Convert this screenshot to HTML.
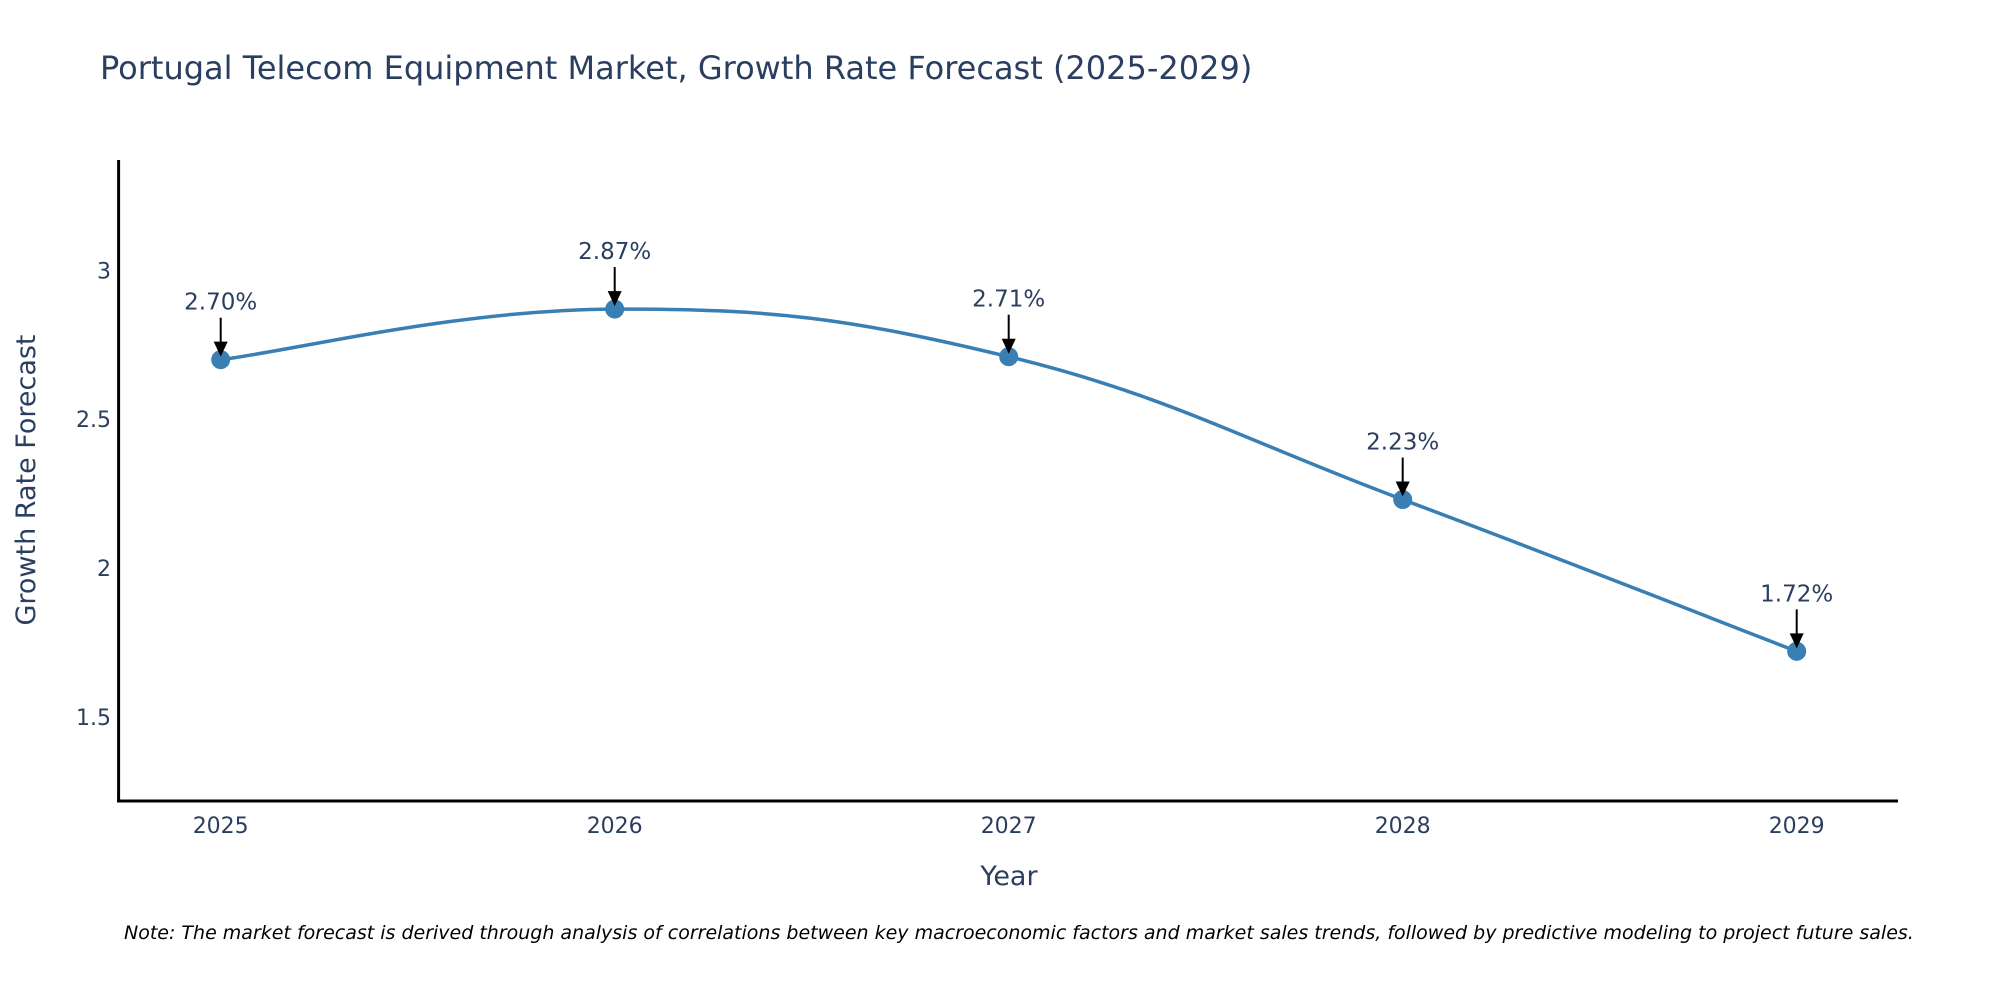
<!DOCTYPE html>
<html><head><meta charset="utf-8"><style>
html,body{margin:0;padding:0;background:#fff;}
svg{display:block;font-family:"DejaVu Sans","Liberation Sans",sans-serif;}
</style></head><body>
<svg id="chart" width="2000" height="1000" viewBox="0 0 2000 1000">
<text x="100" y="79" font-size="32" fill="#2a3f5f">Portugal Telecom Equipment Market, Growth Rate Forecast (2025-2029)</text>
<g id="yticks"></g><g id="xticks"></g>
<path id="line" fill="none" stroke="#3a7fb4" stroke-width="3.5"/>
<g id="marks"></g>
<line x1="118.6" y1="160" x2="118.6" y2="802" stroke="#000" stroke-width="3"/>
<line x1="117" y1="801" x2="1898" y2="801" stroke="#000" stroke-width="3"/>
<text transform="translate(35,480) rotate(-90)" text-anchor="middle" font-size="27" fill="#2a3f5f">Growth Rate Forecast</text>
<text x="1009" y="885" text-anchor="middle" font-size="27" fill="#2a3f5f">Year</text>
<text x="124" y="939" font-size="19" font-style="italic" fill="#000">Note: The market forecast is derived through analysis of correlations between key macroeconomic factors and market sales trends, followed by predictive modeling to project future sales.</text>
</svg>
<script>
const years = [2025, 2026, 2027, 2028, 2029];
const values = [2.70, 2.87, 2.71, 2.23, 1.72];
const labels = ["2.70%", "2.87%", "2.71%", "2.23%", "1.72%"];
const yTickValues = [1.5, 2, 2.5, 3];
const yTickLabels = ["1.5", "2", "2.5", "3"];

const NS = "http://www.w3.org/2000/svg";
function xs(v){ return 220.7 + (v - 2025) * 394; }
function ys(v){ return 270.4 + (3 - v) * 297.6; }
function mk(tag, attrs, parent){ const e=document.createElementNS(NS,tag); for(const k in attrs) e.setAttribute(k,attrs[k]); parent.appendChild(e); return e; }

const yt = document.getElementById('yticks');
yTickValues.forEach((v,i)=>{
  const t = mk('text',{x:111,y:ys(v)+8,'text-anchor':'end','font-size':22,fill:'#2a3f5f'},yt);
  t.textContent = yTickLabels[i];
  
  
});
const xt = document.getElementById('xticks');
years.forEach(y=>{
  const t = mk('text',{x:xs(y),y:833,'text-anchor':'middle','font-size':22,fill:'#2a3f5f'},xt);
  t.textContent = String(y);
  
  
});

const pts = years.map((y,i)=>[xs(y), ys(values[i])]);
let d = `M${pts[0][0]},${pts[0][1]}`;
const s = 0.2;
for(let i=0;i<pts.length-1;i++){
  const p0 = pts[Math.max(0,i-1)], p1=pts[i], p2=pts[i+1], p3=pts[Math.min(pts.length-1,i+2)];
  const c1=[p1[0]+(p2[0]-p0[0])*s, p1[1]+(p2[1]-p0[1])*s];
  const c2=[p2[0]-(p3[0]-p1[0])*s, p2[1]-(p3[1]-p1[1])*s];
  d += ` C${c1[0]},${c1[1]} ${c2[0]},${c2[1]} ${p2[0]},${p2[1]}`;
}
document.getElementById('line').setAttribute('d', d);

const g = document.getElementById('marks');
pts.forEach((p,i)=>{
  const c = mk('circle',{cx:p[0],cy:p[1],r:9.5,fill:'#3a7fb4'},g);
  
  
  const l = mk('line',{x1:p[0],y1:p[1]-42,x2:p[0],y2:p[1]-16,stroke:'#000','stroke-width':2},g);
  
  
  const h = mk('polygon',{points:`${p[0]-7},${p[1]-18} ${p[0]+7},${p[1]-18} ${p[0]},${p[1]-3}`,fill:'#000'},g);
  
  
  const t = mk('text',{x:p[0],y:p[1]-50,'text-anchor':'middle','font-size':23,fill:'#2a3f5f'},g);
  t.textContent = labels[i];
  
  
});
</script>
</body></html>
